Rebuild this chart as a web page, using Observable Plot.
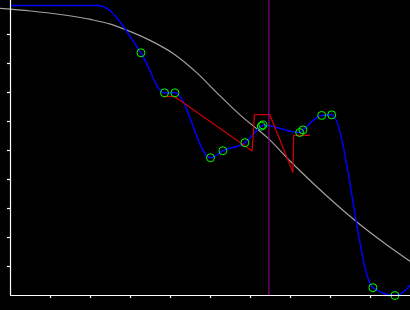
<!DOCTYPE html>
<html>
<head>
<meta charset="utf-8">
<script src="https://cdn.jsdelivr.net/npm/d3@7"></script>
<script src="https://cdn.jsdelivr.net/npm/@observablehq/plot@0.6"></script>
<style>
  html, body { margin: 0; padding: 0; background: #000; }
  #chart svg { display: block; background: #000; }
</style>
</head>
<body>
<div id="chart"></div>
<script>
// Sample points (green circles) of the blue series
const pointX = [3.26, 3.85, 4.11, 5.0, 5.31, 5.86, 6.27, 6.31, 7.23, 7.31, 7.78, 8.03, 9.06, 9.61];
const pointY = [8.37, 6.99, 6.99, 4.75, 4.99, 5.27, 5.84, 5.88, 5.62, 5.71, 6.21, 6.23, 0.27, 0.0];
// Extra (unmarked) head and tail of the blue curve
const headX = [0, 2.2];
const headY = [10, 10];
const tailX = [10.5];
const tailY = [1.5];
// Red step-like series
const redX = [3.83, 4.10, 6.04, 6.10, 6.48, 7.06, 7.08, 7.48];
const redY = [6.86, 6.86, 4.98, 6.24, 6.24, 4.25, 5.52, 5.52];
// Gray sigmoid reference curve
const grayX = [-0.25, 0.5, 1.25, 2.0, 2.5, 3.0, 3.5, 4.075, 4.675, 5.175, 5.75, 6.45, 7.0, 7.65, 7.95, 8.675, 9.325, 10.0];
const grayY = [9.90, 9.81, 9.69, 9.52, 9.36, 9.10, 8.79, 8.34, 7.66, 6.97, 6.21, 5.41, 4.62, 3.76, 3.38, 2.52, 1.83, 1.17];
// Vertical marker
const markerX = [6.46];
// Tick values
const xTicks = [1, 2, 3, 4, 5, 6, 7, 8, 9];
const yTicks = [1, 2, 3, 4, 5, 6, 7, 8, 9];

const points = pointX.map((x, i) => ({x, y: pointY[i]}));
const blueLine = [
  ...headX.map((x, i) => ({x, y: headY[i]})),
  ...points,
  ...tailX.map((x, i) => ({x, y: tailY[i]}))
];
const red = redX.map((x, i) => ({x, y: redY[i]}));
const gray = grayX.map((x, i) => ({x, y: grayY[i]}));

const chart = Plot.plot({
  width: 410,
  height: 310,
  marginLeft: 10,
  marginRight: 0,
  marginTop: 0,
  marginBottom: 15,
  style: {background: "#000", color: "white"},
  x: {domain: [0, 10], axis: null},
  y: {domain: [0, 295 / 29], axis: null},
  marks: [
    Plot.line(gray, {x: "x", y: "y", stroke: "#a0a0a0", strokeWidth: 1.2, curve: "monotone-x"}),
    Plot.line(blueLine, {x: "x", y: "y", stroke: "#0000ff", strokeWidth: 1.5, curve: "monotone-x", clip: true}),
    Plot.line(red, {x: "x", y: "y", stroke: "#cc0000", strokeWidth: 1.3}),
    Plot.ruleX(markerX, {stroke: "#8b008b", strokeWidth: 1.2}),
    Plot.dot(points, {x: "x", y: "y", r: 4, stroke: "#00ff00", fill: "none", strokeWidth: 1}),
    Plot.ruleX([0], {stroke: "white", strokeWidth: 1.2}),
    Plot.ruleY([0], {stroke: "white", strokeWidth: 1.2}),
    Plot.axisX(xTicks, {tickSize: 3, tickFormat: () => "", stroke: "white", strokeWidth: 1.2, label: null}),
    Plot.axisY(yTicks, {tickSize: 3, tickFormat: () => "", stroke: "white", strokeWidth: 1.2, label: null})
  ]
});
document.getElementById("chart").appendChild(chart);
</script>
</body>
</html>
